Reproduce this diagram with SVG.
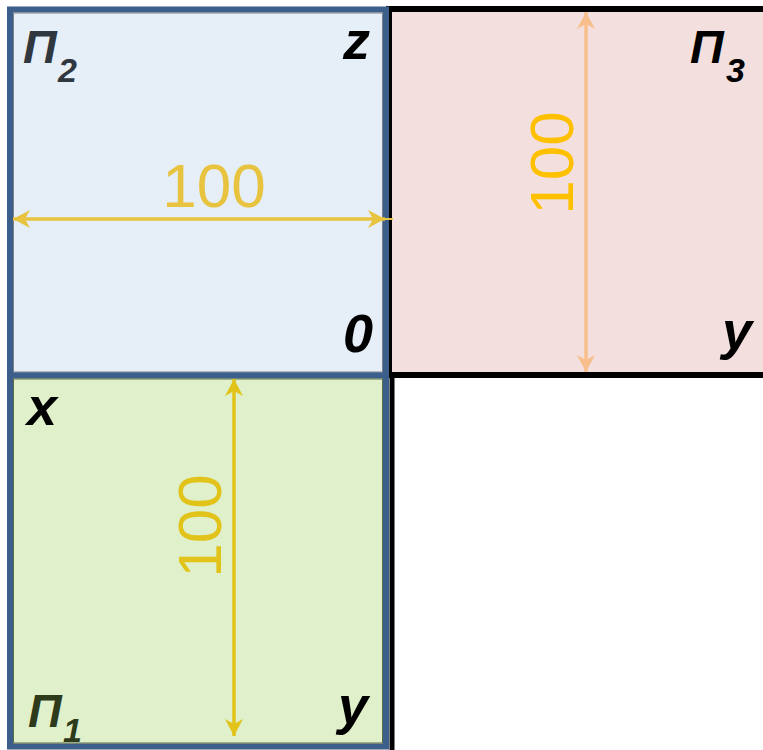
<svg xmlns="http://www.w3.org/2000/svg" width="763" height="750" viewBox="0 0 763 750">
<style>
.lbl{font-family:"Liberation Sans",Arial,sans-serif;font-weight:bold;font-style:italic;font-size:54px;fill:#000}
.pi{font-family:"Liberation Sans",Arial,sans-serif;font-weight:bold;font-style:italic;font-size:47px}
.sub{font-size:34px}
.dim{font-family:"Liberation Sans",Arial,sans-serif;font-size:62px;text-anchor:middle}
.frame{stroke:#3b5e8a;stroke-width:6}
</style>
<defs>
<marker id="aGold" markerUnits="userSpaceOnUse" viewBox="-18 -10 20 20" refX="0" refY="0" markerWidth="20" markerHeight="20" orient="auto-start-reverse">
<path d="M0,0 L-17,-9 L-12,0 L-17,9 Z" fill="#e8c33f"/>
</marker>
<marker id="aPeach" markerUnits="userSpaceOnUse" viewBox="-18 -10 20 20" refX="0" refY="0" markerWidth="20" markerHeight="20" orient="auto-start-reverse">
<path d="M0,0 L-17,-9 L-12,0 L-17,9 Z" fill="#f8bf8d"/>
</marker>
<marker id="aMustard" markerUnits="userSpaceOnUse" viewBox="-18 -10 20 20" refX="0" refY="0" markerWidth="20" markerHeight="20" orient="auto-start-reverse">
<path d="M0,0 L-17,-9 L-12,0 L-17,9 Z" fill="#e1c31a"/>
</marker>
</defs>

<g id="plane3">
<rect x="389" y="9" width="380" height="366" fill="#f2dfde" stroke="#000" stroke-width="6"/>
<line x1="392" y1="375" x2="392" y2="750" stroke="#000" stroke-width="5"/>
<text class="pi" x="690" y="63" fill="#000">Π<tspan class="sub" x="726" y="82">3</tspan></text>
<text class="lbl" x="722" y="349">y</text>
</g>

<g id="plane2">
<rect x="10" y="9.5" width="376" height="366" fill="#e6eef7" class="frame"/>
<rect x="13.5" y="13" width="369" height="359" fill="none" stroke="#7d8086" stroke-width="1"/>
<text class="pi" x="23" y="63" fill="#30373f">Π<tspan class="sub" x="58" y="82">2</tspan></text>
<text class="lbl" x="343" y="59">z</text>
<text class="lbl" x="343" y="352">0</text>
</g>

<g id="plane1">
<rect x="10" y="375.5" width="376" height="371" fill="#dff0cb" class="frame"/>
<rect x="13.5" y="379" width="369" height="364" fill="none" stroke="#5a6a48" stroke-width="1"/>
<text class="pi" x="28" y="727" fill="#2e3a1c">Π<tspan class="sub" x="63" y="742">1</tspan></text>
<text class="lbl" x="27" y="425">x</text>
<text class="lbl" x="338" y="724">y</text>
</g>

<g id="connectors">
<line x1="13" y1="219" x2="385" y2="219" stroke="#e8c33f" stroke-width="3.5" marker-start="url(#aGold)" marker-end="url(#aGold)"/>
<line x1="385" y1="219" x2="393" y2="219" stroke="#e8c33f" stroke-width="2"/>
<line x1="586" y1="12" x2="586" y2="372" stroke="#f8bf8d" stroke-width="3.5" marker-start="url(#aPeach)" marker-end="url(#aPeach)"/>
<line x1="234" y1="379" x2="234" y2="736" stroke="#e1c31a" stroke-width="3.5" marker-start="url(#aMustard)" marker-end="url(#aMustard)"/>
</g>

<g id="labels">
<text class="dim" x="214" y="207" fill="#e8c33f">100</text>
<text class="dim" transform="translate(573,163) rotate(-90)" fill="#ffc000">100</text>
<text class="dim" transform="translate(221,526) rotate(-90)" fill="#e1c31a">100</text>
</g>
</svg>
